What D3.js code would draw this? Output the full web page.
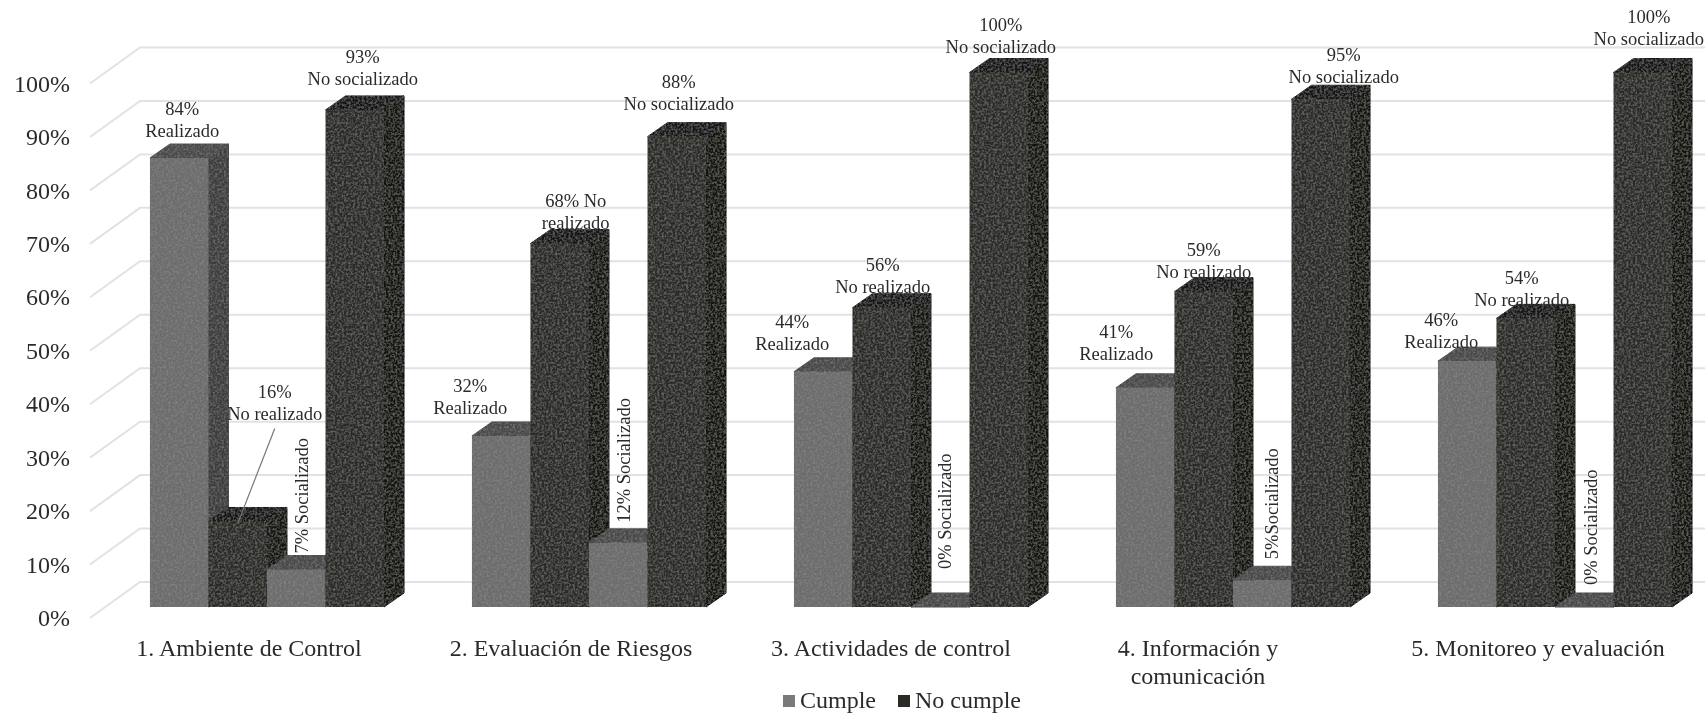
<!DOCTYPE html>
<html>
<head>
<meta charset="utf-8">
<script src="https://cdn.jsdelivr.net/npm/d3@7"></script>
<style>
	html, body { margin: 0; padding: 0; background: #fff; }
	svg { display: block; }
	text { font-family: "Liberation Serif", serif; fill: #2b2b2b; }
</style>
</head>
<body>
<div id="chart"></div>
<script>
// chart values, one number per group (percent)
var categories = ['1. Ambiente de Control', '2. Evaluación de Riesgos', '3. Actividades de control', '4. Información y|comunicación', '5. Monitoreo y evaluación'];
var realizado = [84, 32, 44, 41, 46];
var noRealizado = [16, 68, 56, 59, 54];
var socializado = [7, 12, 0, 5, 0];
var noSocializado = [93, 88, 100, 95, 100];
var yTicks = [0, 10, 20, 30, 40, 50, 60, 70, 80, 90, 100];
var legendNames = ['Cumple', 'No cumple'];

// label text of each bar, lines split with |
var realizadoText = ['84%|Realizado', '32%|Realizado', '44%|Realizado', '41%|Realizado', '46%|Realizado'];
var noRealizadoText = ['16%|No realizado', '68% No|realizado', '56%|No realizado', '59%|No realizado', '54%|No realizado'];
var socializadoText = ['7% Socializado', '12% Socializado', '0% Socializado', '5%Socializado', '0% Socializado'];
var noSocializadoText = ['93%|No socializado', '88%|No socializado', '100%|No socializado', '95%|No socializado', '100%|No socializado'];

// hand placed label nudges from the bar's top centre [dx, dy]
var labelNudge = [
	[[3, -21], [37, -101], [12, -16], [8, -25]],
	[[-31, -22], [16, -15], [12, -20], [2, -27]],
	[[-31, -22], [1, -15], [11, -38], [2, -20]],
	[[-29, -28], [0, -14], [16, -21], [23, -16]],
	[[-26, -13], [-4, -12], [13, -22], [6, -28]]
];

var width = 1705, height = 713;
var wallDx = 50, wallDy = 36; // depth of the side wall
var barDx = 16, barDy = 11; // how far the bar row sits behind the front edge
var sideDx = 20, sideDy = 14; // depth of one bar
var plotLeft = 90;

var palette = {
	cumple: { front: '#6c6c6c', side: '#3e3e3e', top: '#484848' },
	noCumple: { front: '#2a2a26', side: '#121210', top: '#181815' }
};

var svg = d3.select('#chart').append('svg')
	.attr('width', width)
	.attr('height', height);

var defs = svg.append('defs');

// the scan is a little soft
defs.append('filter').attr('id', 'soft')
	.append('feGaussianBlur').attr('stdDeviation', 0.5);

// and the printed bars are slightly grainy
var grain = defs.append('filter').attr('id', 'grain');
grain.append('feTurbulence')
	.attr('type', 'fractalNoise')
	.attr('baseFrequency', 0.45)
	.attr('numOctaves', 2)
	.attr('seed', 4)
	.attr('result', 'noise');
grain.append('feColorMatrix')
	.attr('in', 'noise')
	.attr('type', 'matrix')
	.attr('values', '0 0 0 0 0.45  0 0 0 0 0.45  0 0 0 0 0.45  0.6 0 0 0 -0.24')
	.attr('result', 'speck');
grain.append('feComposite')
	.attr('in', 'speck')
	.attr('in2', 'SourceAlpha')
	.attr('operator', 'in')
	.attr('result', 'clipped');
var merge = grain.append('feMerge');
merge.append('feMergeNode').attr('in', 'SourceGraphic');
merge.append('feMergeNode').attr('in', 'clipped');

var root = svg.append('g').attr('filter', 'url(#soft)');

var y = d3.scaleLinear().domain([0, 100]).range([607, 72.5]);
var x0 = d3.scaleBand().domain(d3.range(categories.length))
	.range([plotLeft, plotLeft + 1610])
	.paddingInner(0.273)
	.paddingOuter(0.1365);
var x1 = d3.scaleBand().domain(d3.range(4)).range([0, x0.bandwidth()]);

// walls: the side slant and the long back line of every tick
var grid = root.append('g').attr('class', 'grid')
	.attr('stroke', '#e2e2e2')
	.attr('stroke-width', 2)
	.attr('fill', 'none');

grid.selectAll('path').data(yTicks).join('path')
	.attr('d', function (t) {
		var yFront = y(t) + barDy;
		return 'M' + plotLeft + ',' + yFront +
			'L' + (plotLeft + wallDx) + ',' + (yFront - wallDy) +
			'H' + width;
	});

// y axis
var yAxis = d3.axisLeft(y)
	.tickValues(yTicks)
	.tickSize(0)
	.tickPadding(0)
	.tickFormat(function (d) { return d + '%'; });

root.append('g')
	.attr('transform', 'translate(70,' + barDy + ')')
	.call(yAxis)
	.call(function (g) {
		g.select('.domain').remove();
		g.selectAll('text').style('font-family', '"Liberation Serif", serif').style('font-size', '24px');
	});

// flatten to one row per bar
var bars = [];
categories.forEach(function (c, g) {
	[realizado, noRealizado, socializado, noSocializado].forEach(function (serie, i) {
		var text = [realizadoText, noRealizadoText, socializadoText, noSocializadoText][i][g];
		bars.push({ group: g, index: i, value: serie[g], text: text, colors: i % 2 === 0 ? palette.cumple : palette.noCumple });
	});
});

function barX(d) {
	return x0(d.group) + barDx + x1(d.index);
}

function barCentre(d) {
	return barX(d) + x1.bandwidth() / 2;
}

// left to right so each bar hides the side of the one before it
var barG = root.append('g')
	.attr('filter', 'url(#grain)')
	.selectAll('g').data(bars).join('g');

barG.append('path')
	.attr('fill', function (d) { return d.colors.side; })
	.attr('stroke', function (d) { return d.colors.side; })
	.attr('d', function (d) {
		var r = barX(d) + x1.bandwidth(), t = y(d.value), b = y(0);
		return 'M' + r + ',' + t + 'l' + sideDx + ',' + (-sideDy) + 'V' + (b - sideDy) + 'L' + r + ',' + b + 'Z';
	});

barG.append('path')
	.attr('fill', function (d) { return d.colors.top; })
	.attr('stroke', function (d) { return d.colors.top; })
	.attr('d', function (d) {
		var l = barX(d), t = y(d.value), w = x1.bandwidth();
		return 'M' + l + ',' + t + 'l' + sideDx + ',' + (-sideDy) + 'h' + w + 'l' + (-sideDx) + ',' + sideDy + 'Z';
	});

barG.append('rect')
	.attr('fill', function (d) { return d.colors.front; })
	.attr('x', barX)
	.attr('y', function (d) { return y(d.value); })
	.attr('width', x1.bandwidth())
	.attr('height', function (d) { return y(0) - y(d.value); });

// leader line of the one label that sits away from its bar
var leader = bars[1];
root.append('line')
	.attr('x1', barCentre(leader) + labelNudge[0][1][0])
	.attr('y1', y(leader.value) + labelNudge[0][1][1] + 8)
	.attr('x2', barCentre(leader))
	.attr('y2', y(leader.value) + 2)
	.attr('stroke', '#777')
	.attr('stroke-width', 1.2);

// data labels
var lineHeight = 22;
var labels = root.append('g').attr('class', 'labels')
	.style('font-size', '18.5px')
	.attr('text-anchor', 'middle');

labels.selectAll('text').data(bars).join('text')
	.each(function (d) {
		var el = d3.select(this);
		var nudge = labelNudge[d.group][d.index];
		var lx = barCentre(d) + nudge[0], ly = y(d.value) + nudge[1];
		if (d.index === 2) {
			// socializado labels run up the side of the bar
			el.attr('text-anchor', 'start')
				.attr('transform', 'translate(' + lx + ',' + ly + ') rotate(-90)')
				.text(d.text);
			return;
		}
		var lines = d.text.split('|');
		el.selectAll('tspan').data(lines).join('tspan')
			.attr('x', lx)
			.attr('y', function (l, i) { return ly - (lines.length - 1 - i) * lineHeight; })
			.text(function (l) { return l; });
	});

// category labels
var catNudge = [-2, -2, -4, -19, -1];
root.append('g').selectAll('text').data(categories).join('text')
	.style('font-size', '24px')
	.attr('text-anchor', 'middle')
	.each(function (c, g) {
		var lines = c.split('|');
		var cx = x0(g) + x0.bandwidth() / 2 + catNudge[g];
		d3.select(this).selectAll('tspan').data(lines).join('tspan')
			.attr('x', cx)
			.attr('y', function (l, i) { return 656 + i * 28; })
			.text(function (l) { return l; });
	});

// legend
var legendX = d3.scaleOrdinal().domain(legendNames).range([783, 898]);
var legend = root.append('g').selectAll('g').data(legendNames).join('g')
	.attr('transform', function (d) { return 'translate(' + legendX(d) + ',695)'; });

legend.append('rect')
	.attr('width', 12)
	.attr('height', 12)
	.attr('fill', function (d, i) { return i === 0 ? '#7a7a7a' : '#2a2a26'; });

legend.append('text')
	.attr('x', 17)
	.attr('y', 13)
	.style('font-size', '24px')
	.text(function (d) { return d; });
</script>
</body>
</html>
